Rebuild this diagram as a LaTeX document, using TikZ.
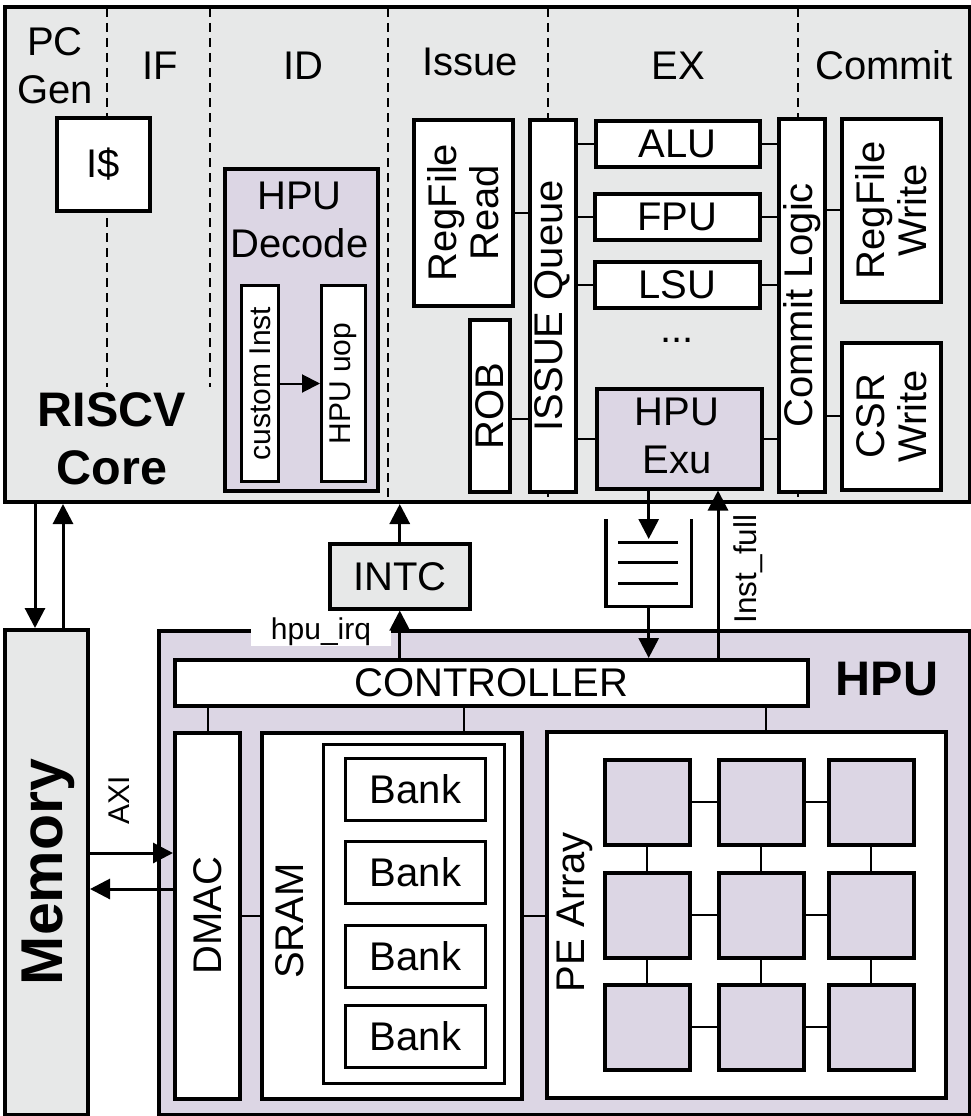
\documentclass[tikz,border=0pt]{standalone}
\usepackage{fontspec}
\setmainfont{Liberation Sans}
\usetikzlibrary{arrows.meta,calc}
\definecolor{coregray}{RGB}{231,232,232}
\definecolor{lav}{RGB}{220,214,228}
\newcommand\fsN{\fontsize{40}{42}\selectfont}
\newcommand\fsS{\fontsize{30}{34}\selectfont}
\newcommand\fsB{\fontsize{48.5}{57}\selectfont\bfseries}
\newcommand\fsM{\fontsize{59}{70}\selectfont\bfseries}
\begin{document}
\begin{tikzpicture}[x=1pt,y=-1pt,
  outer/.style={draw, line width=4pt, inner sep=0pt, anchor=north west},
  box/.style={draw, line width=3.5pt, fill=white, inner sep=0pt, anchor=north west},
  thinbox/.style={draw, line width=3pt, fill=white, inner sep=0pt, anchor=north west},
  txt/.style={inner sep=0pt, font=\fsN, align=center},
  stxt/.style={inner sep=0pt, font=\fsS, align=center},
  rtxt/.style={txt, rotate=90},
  conn/.style={line width=2pt},
  arr/.style={line width=3pt, -{Triangle[length=20pt,width=20pt]}},
  arrs/.style={line width=2pt, -{Triangle[length=18pt,width=18pt]}},
  stage/.style={line width=2pt, dash pattern=on 9pt off 6pt},
  pe/.style={draw, line width=3.5pt, fill=lav, inner sep=0pt, anchor=north west, minimum width=85pt, minimum height=85pt},
]
\useasboundingbox (0,0) rectangle (971,1116);

% ---------------- RISCV core ----------------
\node[outer, fill=coregray, minimum width=965pt, minimum height=495pt] (core) at (3,5) {};
\draw[stage] (107,8) -- (107,387);
\draw[stage] (210,8) -- (210,387);
\draw[stage] (388,8) -- (388,498);
\draw[stage] (548,8) -- (548,498);
\draw[stage] (798,8) -- (798,498);

\node[txt, anchor=base] (lblPC) at (55,56) {PC};
\node[txt, anchor=base] (lblGen) at (55,103) {Gen};
\node[txt, anchor=base] (lblIF) at (160,80) {IF};
\node[txt, anchor=base] (lblID) at (303,80) {ID};
\node[txt, anchor=base] (lblIssue) at (470,76) {Issue};
\node[txt, anchor=base] (lblEX) at (678,79) {EX};
\node[txt, anchor=base] (lblCommit) at (884,80) {Commit};

\node[box, minimum width=93pt, minimum height=93pt, font=\fsN] (icache) at (55,116) {I\$};

\node[box, fill=lav, minimum width=153pt, minimum height=322pt] (hdec) at (223,167) {};
\node[txt, anchor=base] (hdecA) at (299.5,209) {HPU};
\node[txt, anchor=base] (hdecB) at (299.5,257) {Decode};
\node[thinbox, minimum width=37pt, minimum height=196pt] (ci) at (240,284) {};
\node[stxt, rotate=90] (ciT) at (ci) {custom Inst};
\node[thinbox, minimum width=44pt, minimum height=196pt] (uop) at (320,284) {};
\node[stxt, rotate=90] (uopT) at (uop) {HPU uop};
\draw[arrs] (ci.east) -- (uop.west);

\node[inner sep=0pt, font=\fsB, anchor=base] (riscvA) at (112,426) {RISCV};
\node[inner sep=0pt, font=\fsB, anchor=base] (riscvB) at (112,484) {Core};

\node[box, minimum width=99pt, minimum height=186pt] (rfr) at (412,118) {};
\node[rtxt] (rfrT) at (rfr) {RegFile\\Read};
\node[box, minimum width=40pt, minimum height=172pt] (rob) at (468,318) {};
\node[rtxt] (robT) at (rob) {ROB};
\node[box, minimum width=46pt, minimum height=372pt] (iq) at (528,118) {};
\node[rtxt] (iqT) at (iq) {ISSUE Queue};
\node[box, minimum width=164pt, minimum height=46pt, font=\fsN] (alu) at (594,119) {ALU};
\node[box, minimum width=165pt, minimum height=46pt, font=\fsN] (fpu) at (593,192) {FPU};
\node[box, minimum width=165pt, minimum height=46pt, font=\fsN] (lsu) at (593,260) {LSU};
\node[txt, anchor=base] (dots) at (677,342) {...};
\node[box, fill=lav, minimum width=165pt, minimum height=100pt] (hexu) at (595,387) {};
\node[txt, anchor=base] (hexuA) at (677,425) {HPU};
\node[txt, anchor=base] (hexuB) at (677,473) {Exu};
\node[box, minimum width=46pt, minimum height=373pt] (cl) at (777,117) {};
\node[rtxt] (clT) at (cl) {Commit Logic};
\node[box, minimum width=99pt, minimum height=183pt] (rfw) at (840,117) {};
\node[rtxt] (rfwT) at (rfw) {RegFile\\Write};
\node[box, minimum width=99pt, minimum height=147pt] (csr) at (840,341) {};
\node[rtxt] (csrT) at (csr) {CSR\\Write};

\draw[conn] (rfr.east) -- (rfr.east -| iq.west);
\draw[conn] (rob.east |- 0,419) -- (iq.west |- 0,419);
\draw[conn] (alu.west -| iq.east) -- (alu.west);
\draw[conn] (fpu.west -| iq.east) -- (fpu.west);
\draw[conn] (lsu.west -| iq.east) -- (lsu.west);
\draw[conn] (hexu.west -| iq.east) -- (hexu.west);
\draw[conn] (alu.east) -- (alu.east -| cl.west);
\draw[conn] (fpu.east) -- (fpu.east -| cl.west);
\draw[conn] (lsu.east) -- (lsu.east -| cl.west);
\draw[conn] (hexu.east) -- (hexu.east -| cl.west);
\draw[conn] (rfw.west -| cl.east) -- (rfw.west);
\draw[conn] (csr.west -| cl.east) -- (csr.west);

% ---------------- Memory ----------------
\node[outer, fill=coregray, minimum width=83pt, minimum height=485pt] (mem) at (3,628) {};
\node[inner sep=0pt, font=\fsM, rotate=90] (memT) at (48,872) {Memory};
\draw[arr] (core.south -| 35,0) -- (mem.north -| 35,0);
\draw[arr] (mem.north -| 63,0) -- (core.south -| 63,0);

% ---------------- HPU ----------------
\node[outer, fill=lav, minimum width=811pt, minimum height=484pt] (hpu) at (157,629) {};
\node[inner sep=0pt, font=\fsB, anchor=base] (hpuT) at (887,695) {HPU};
\node[fill=white, inner xsep=20pt, inner ysep=1pt, font=\fsS, anchor=base] (irq) at (321,639) {hpu\_irq};

\node[box, fill=coregray, minimum width=140pt, minimum height=65pt, font=\fsN] (intc) at (328,542) {INTC};

\node[box, minimum width=633pt, minimum height=46pt, font=\fsN] (ctrl) at (173,658) {CONTROLLER};

\draw[arr] (ctrl.north -| intc.south) -- (intc.south);
\draw[arr] (intc.north) -- (intc.north |- core.south);

% FIFO
\node[inner sep=0pt, anchor=north west, minimum width=85pt, minimum height=87pt] (fifo) at (606,519) {};
\draw[line width=3.5pt] (fifo.north west) -- (fifo.south west) -- (fifo.south east) -- (fifo.north east);
\draw[line width=3pt] (618,542) -- (678,542);
\draw[line width=3pt] (618,562) -- (678,562);
\draw[line width=3pt] (618,583) -- (678,583);
\draw[arr] (hexu.south -| fifo.north) -- ($(fifo.north)+(0,20)$);
\draw[arr] (fifo.south) -- (fifo.south |- ctrl.north);

\draw[arr] (ctrl.north -| 718,0) -- (hexu.south -| 718,0);
\node[inner sep=0pt, font=\fontsize{31.5}{34}\selectfont, rotate=90] (instfull) at (748,569) {Inst\_full};

% HPU internals
\node[box, minimum width=65pt, minimum height=366pt] (dmac) at (173,731) {};
\node[rtxt] (dmacT) at (dmac) {DMAC};
\node[box, minimum width=260pt, minimum height=366pt] (sram) at (260,731) {};
\node[rtxt] (sramT) at (290,921) {SRAM};
\node[thinbox, minimum width=181pt, minimum height=339pt] (sramin) at (322,743) {};
\node[thinbox, minimum width=140pt, minimum height=62pt, font=\fsN] (bank1) at (344,757) {Bank};
\node[thinbox, minimum width=140pt, minimum height=62pt, font=\fsN] (bank2) at (344,840) {Bank};
\node[thinbox, minimum width=140pt, minimum height=62pt, font=\fsN] (bank3) at (344,924) {Bank};
\node[thinbox, minimum width=140pt, minimum height=62pt, font=\fsN] (bank4) at (344,1004) {Bank};

\node[box, minimum width=399pt, minimum height=366pt] (pea) at (545,730) {};
\node[rtxt] (peaT) at (575,912) {PE Array};

\draw[conn] (ctrl.south -| 208,0) -- (dmac.north -| 208,0);
\draw[conn] (ctrl.south -| 464,0) -- (sram.north -| 464,0);
\draw[conn] (ctrl.south -| 766,0) -- (pea.north -| 766,0);
\draw[conn] (dmac.east) -- (dmac.east -| sram.west);
\draw[conn] (sram.east) -- (sram.east -| pea.west);

% PE grid
\node[pe] (p11) at (603,758) {};
\node[pe] (p12) at (717,758) {};
\node[pe] (p13) at (827,758) {};
\node[pe] (p21) at (603,871) {};
\node[pe] (p22) at (717,871) {};
\node[pe] (p23) at (827,871) {};
\node[pe] (p31) at (603,983) {};
\node[pe] (p32) at (717,983) {};
\node[pe] (p33) at (827,983) {};
\foreach \r in {1,2,3}{
  \draw[conn] (p\r1.east) -- (p\r2.west);
  \draw[conn] (p\r2.east) -- (p\r3.west);
}
\foreach \c in {1,2,3}{
  \draw[conn] (p1\c.south) -- (p2\c.north);
  \draw[conn] (p2\c.south) -- (p3\c.north);
}

% AXI
\draw[arr] (mem.east |- 0,853) -- (dmac.west |- 0,853);
\draw[arr] (dmac.west |- 0,889) -- (mem.east |- 0,889);
\node[stxt, rotate=90] (axi) at (119,800) {AXI};
\end{tikzpicture}
\end{document}
